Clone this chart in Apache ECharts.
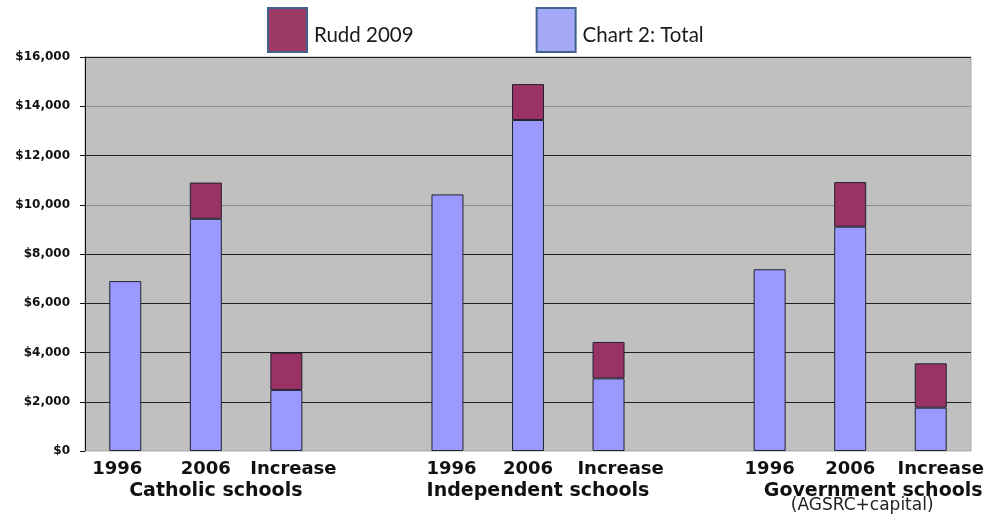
<!DOCTYPE html>
<html>
<head>
<meta charset="utf-8">
<script src="https://cdn.jsdelivr.net/npm/echarts@6/dist/echarts.min.js"></script>
<style>
  html, body { margin: 0; padding: 0; background: #ffffff; }
  #chart { width: 990px; height: 526px; }
</style>
</head>
<body>
<div id="chart"></div>
<script>
// Funding per student, grouped by school sector; empty slots separate the sectors.
const categories = [
  'Catholic schools|1996', 'Catholic schools|2006', 'Catholic schools|Increase',
  'gap1',
  'Independent schools|1996', 'Independent schools|2006', 'Independent schools|Increase',
  'gap2',
  'Government schools|1996', 'Government schools|2006', 'Government schools|Increase'
];
const groupNote = '(AGSRC+capital)';

// Chart 2 totals (bottom of each stack)
const totalValues = [6900, 9430, 2480, null, 10420, 13440, 2950, null, 7380, 9110, 1760];
// Rudd 2009 additions (top of each stack)
const ruddValues = [null, 1470, 1510, null, null, 1460, 1480, null, null, 1810, 1800];

const yTicks = { min: 0, max: 16000, interval: 2000 };

// Horizontal nudges (px) for a few period labels
const labelNudge = {
  'Catholic schools|1996': -8,
  'Catholic schools|Increase': 7,
  'Independent schools|1996': 4,
  'Independent schools|Increase': 12,
  'Government schools|Increase': 10
};

const chart = echarts.init(document.getElementById('chart'), null, { renderer: 'canvas' });

const barBorder = { borderColor: '#22222e', borderWidth: 1 };
const boldFont = { fontFamily: 'DejaVu Sans', fontWeight: 'bold', color: '#111' };

function nudgeStyle(px) {
  return Object.assign({ fontSize: 18, lineHeight: 22 }, boldFont,
    px >= 0 ? { padding: [0, 0, 0, 2 * px] } : { padding: [0, -2 * px, 0, 0] });
}

const rich = {
  y: Object.assign({ fontSize: 18, lineHeight: 22 }, boldFont),
  g: Object.assign({ fontSize: 19, lineHeight: 22, padding: [0, 0, 0, 20] }, boldFont),
  gg: Object.assign({ fontSize: 19, lineHeight: 22, padding: [0, 0, 0, 46] }, boldFont),
  n: { fontFamily: 'DejaVu Sans', fontSize: 17, color: '#222', lineHeight: 8, padding: [0, 0, 0, 24] }
};
Object.keys(labelNudge).forEach(function (k, i) { rich['s' + i] = nudgeStyle(labelNudge[k]); });

chart.setOption({
  animation: false,
  backgroundColor: '#ffffff',
  grid: {
    left: 85, right: 19, top: 57, bottom: 75,
    show: true,
    backgroundColor: '#c0c0c0',
    borderColor: '#a8a8a8',
    borderWidth: 1
  },
  legend: {
    left: 267, top: 7, padding: 0,
    itemWidth: 39, itemHeight: 44, itemGap: 122,
    icon: 'rect',
    formatter: '{t|{name}}',
    textStyle: {
      rich: {
        t: { fontFamily: 'Lato', fontSize: 20.5, color: '#1a1a1a', padding: [10, 0, 0, 2] }
      }
    },
    data: [
      { name: 'Rudd 2009', itemStyle: { color: '#9b3a63', borderColor: '#41618f', borderWidth: 2 } },
      { name: 'Chart 2: Total', itemStyle: { color: '#a3a8f7', borderColor: '#41618f', borderWidth: 2 } }
    ]
  },
  xAxis: {
    type: 'category',
    data: categories,
    axisLine: { show: true, lineStyle: { color: '#d6d6d6' } },
    axisTick: { show: false },
    axisLabel: {
      interval: 0,
      margin: 7,
      color: '#111',
      formatter: function (value) {
        if (value.indexOf('|') < 0) return '';
        const parts = value.split('|');
        const period = parts[1];
        if (period === '2006') {
          if (parts[0] === 'Government schools') {
            return '{y|' + period + '}\n{gg|' + parts[0] + '}\n{n|' + groupNote + '}';
          }
          return '{y|' + period + '}\n{g|' + parts[0] + '}';
        }
        const idx = Object.keys(labelNudge).indexOf(value);
        return idx >= 0 ? '{s' + idx + '|' + period + '}' : '{y|' + period + '}';
      },
      rich: rich
    }
  },
  yAxis: {
    type: 'value',
    min: yTicks.min, max: yTicks.max, interval: yTicks.interval,
    axisLine: { show: true, lineStyle: { color: '#111', width: 1 } },
    axisTick: { show: true, length: 5, lineStyle: { color: '#111' } },
    axisLabel: {
      margin: 15,
      color: '#111',
      fontFamily: 'DejaVu Sans',
      fontWeight: 'bold',
      fontSize: 12,
      formatter: function (v) { return '$' + v.toLocaleString('en-US'); }
    },
    splitLine: {
      show: true,
      lineStyle: {
        width: 1,
        color: ['#c0c0c0', '#1e1e1e', '#1e1e1e', '#1e1e1e', '#1e1e1e', '#8c8c8c', '#1e1e1e', '#8c8c8c', '#1e1e1e']
      }
    }
  },
  series: [
    {
      name: 'Chart 2: Total',
      type: 'bar',
      stack: 'funding',
      barWidth: 32,
      data: totalValues,
      itemStyle: Object.assign({ color: '#9999ff' }, barBorder)
    },
    {
      name: 'Rudd 2009',
      type: 'bar',
      stack: 'funding',
      barWidth: 32,
      data: ruddValues,
      itemStyle: Object.assign({ color: '#993366' }, barBorder)
    }
  ]
});
</script>
</body>
</html>
